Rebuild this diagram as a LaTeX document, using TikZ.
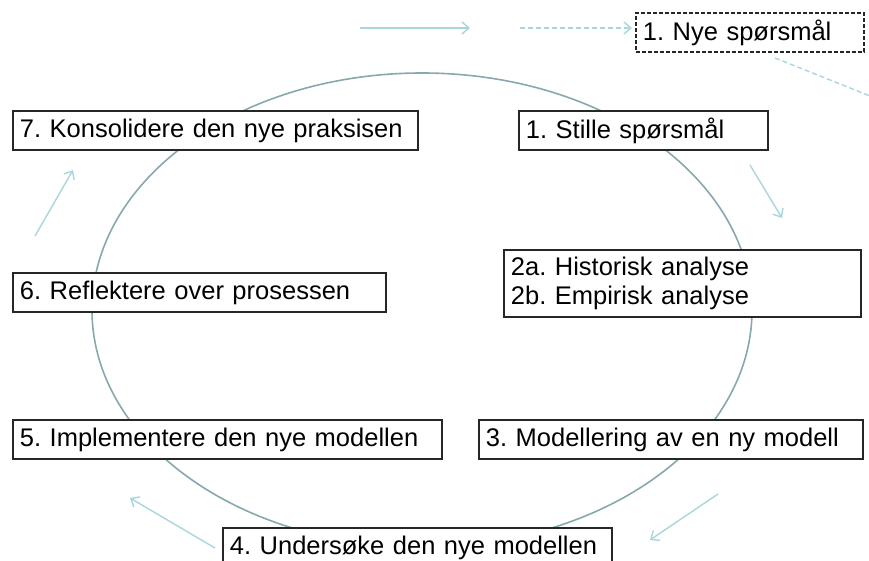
\documentclass[tikz,border=0pt]{standalone}
\usepackage{fontspec}
\setmainfont{Liberation Sans}
\usetikzlibrary{arrows.meta}
\definecolor{pTeal}{RGB}{135,168,172}
\definecolor{pCyan}{RGB}{168,214,220}
\definecolor{pDark}{gray}{0.15}
\tikzset{
    stepbox/.style={draw=pDark, line width=1.9pt, fill=white, anchor=north west, inner xsep=7pt,
        inner ysep=0pt, minimum height=39pt, align=left,
        font=\fontsize{25.5}{28.5}\selectfont\frenchspacing},
    flow/.style={pCyan, line width=1.4pt, -{Straight Barb[length=7pt,width=12pt]}},
    flowdash/.style={flow, dash pattern=on 5pt off 3pt}
}
\begin{document}
\begin{tikzpicture}[x=1pt,y=-1pt]
\useasboundingbox (0,0) rectangle (869,561);
\draw[pTeal, line width=1.6pt] (422,310) ellipse [x radius=330, y radius=237];
% the steps
\node[stepbox, dash pattern=on 4pt off 2pt, text width=214pt] (nye) at (635,12) {1. Nye spørsmål};
\node[stepbox, text width=391pt] (konsol) at (12,110) {7. Konsolidere den nye praksisen};
\node[stepbox, text width=235pt] (stille) at (518,110) {1. Stille spørsmål};
\node[stepbox, text width=343pt, minimum height=67pt] (analyse) at (503,249) {2a. Historisk analyse\\2b. Empirisk analyse};
\node[stepbox, text width=359pt] (reflekt) at (12,272) {6. Reflektere over prosessen};
\node[stepbox, text width=415pt] (impl) at (12,419) {5. Implementere den nye modellen};
\node[stepbox, text width=370pt] (modell) at (478,419) {3. Modellering av en ny modell};
\node[stepbox, text width=375pt] (unders) at (222,527) {4. Undersøke den nye modellen};
% arrows round the cycle
\coordinate (t1) at (360,28);  \coordinate (t2) at (470,28);
\coordinate (t3) at (520,28);  \coordinate (t4) at (632,28);
\coordinate (t5) at (775,58);  \coordinate (t6) at (885,102);
\coordinate (r1) at (750,165); \coordinate (r2) at (782,218);
\coordinate (b1) at (718,494); \coordinate (b2) at (650,540);
\coordinate (b3) at (215,548); \coordinate (b4) at (130,498);
\coordinate (l1) at (35,236);  \coordinate (l2) at (73,170);
\draw[flow] (t1) -- (t2);
\draw[flowdash] (t3) -- (t4);
\draw[flowdash] (t5) -- (t6);
\draw[flow] (r1) -- (r2);
\draw[flow] (b1) -- (b2);
\draw[flow] (b3) -- (b4);
\draw[flow] (l1) -- (l2);
\end{tikzpicture}
\end{document}
